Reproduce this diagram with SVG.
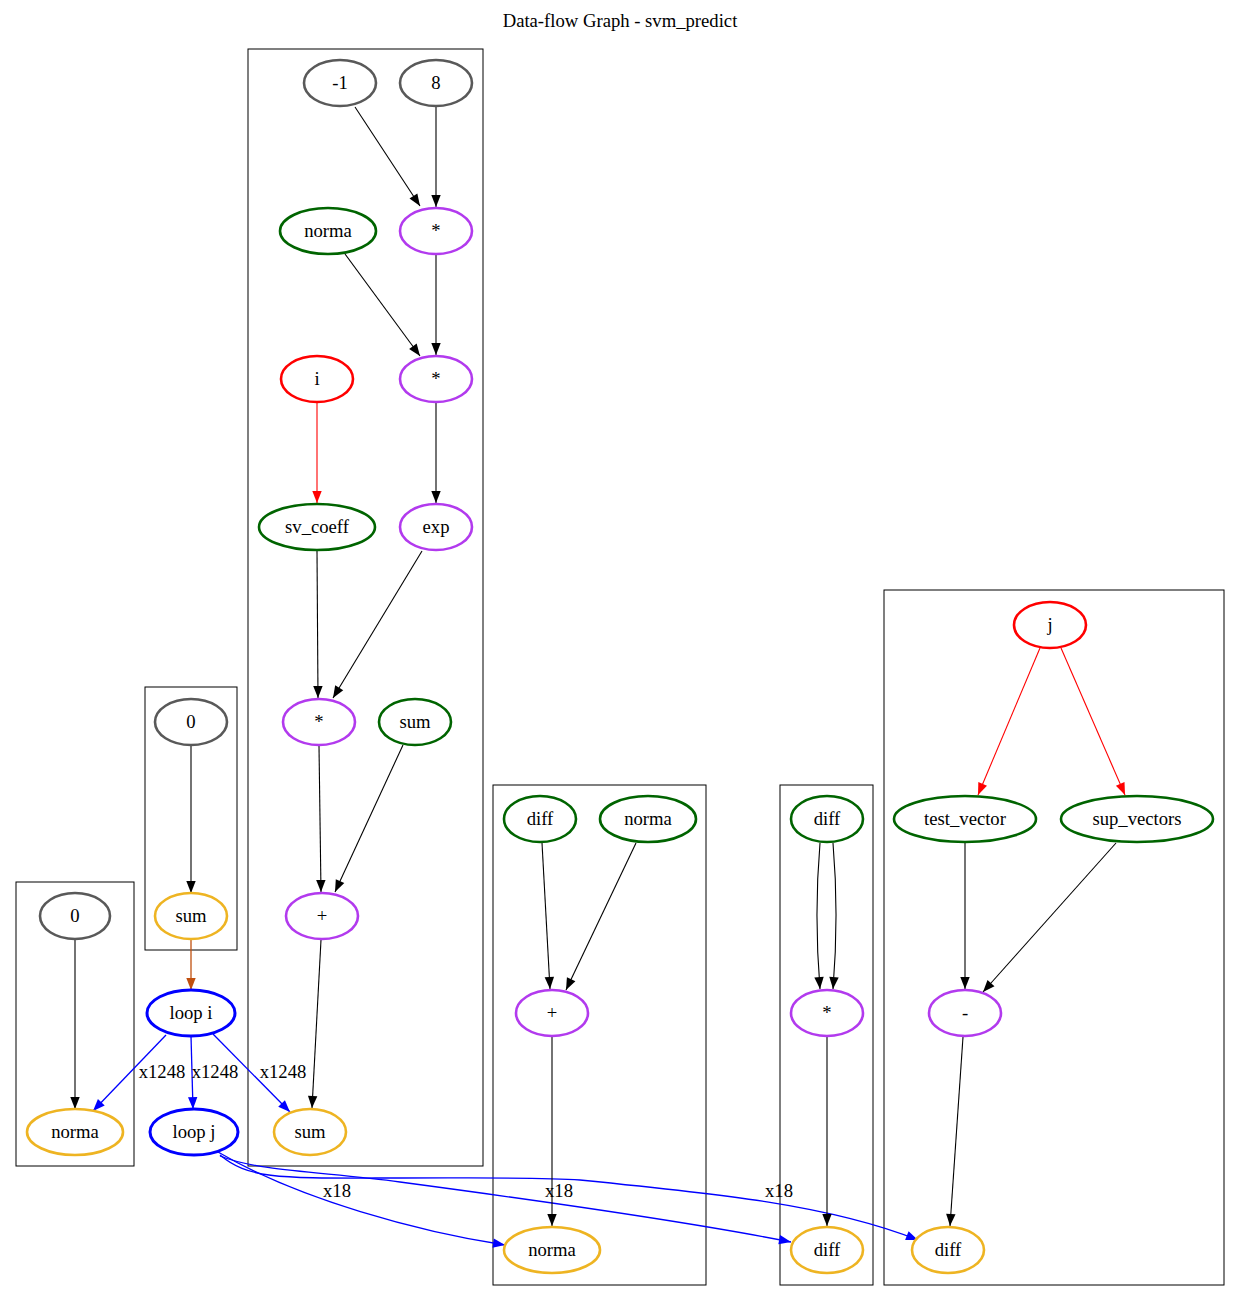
<svg xmlns="http://www.w3.org/2000/svg" width="1240" height="1301" viewBox="0 0 1240 1301">
<style>
text{font-family:"Liberation Serif","Times New Roman",serif;font-size:18.67px;text-anchor:middle;fill:#000}
.n ellipse{fill:#fff;stroke-width:2.6}
.g ellipse{stroke:#595959}
.gr ellipse{stroke:#006400}
.p ellipse{stroke:#b23aee}
.o ellipse{stroke:#eeb422}
.r ellipse{stroke:#ff0000}
.b ellipse{stroke:#0000ff;stroke-width:3}
.cl{fill:none;stroke:#000;stroke-width:1}
.e{fill:none;stroke:#000;stroke-width:1.1;marker-end:url(#ak)}
.er{fill:none;stroke:#ff0000;stroke-width:1.1;marker-end:url(#ar)}
.eb{fill:none;stroke:#0000ff;stroke-width:1.3;marker-end:url(#ab)}
.eo{fill:none;stroke:#c0500f;stroke-width:1.3;marker-end:url(#ao)}
</style>
<defs>
<marker id="ak" markerUnits="userSpaceOnUse" markerWidth="14" markerHeight="12" refX="13" refY="6" orient="auto"><path d="M1,1.3 L13,6 L1,10.7 Z" fill="#000"/></marker>
<marker id="ar" markerUnits="userSpaceOnUse" markerWidth="14" markerHeight="12" refX="13" refY="6" orient="auto"><path d="M1,1.3 L13,6 L1,10.7 Z" fill="#ff0000"/></marker>
<marker id="ab" markerUnits="userSpaceOnUse" markerWidth="14" markerHeight="12" refX="13" refY="6" orient="auto"><path d="M1,1.3 L13,6 L1,10.7 Z" fill="#0000ff"/></marker>
<marker id="ao" markerUnits="userSpaceOnUse" markerWidth="14" markerHeight="12" refX="13" refY="6" orient="auto"><path d="M1,1.3 L13,6 L1,10.7 Z" fill="#c0500f"/></marker>
</defs>
<rect width="1240" height="1301" fill="#fff"/>
<text x="620" y="27">Data-flow Graph - svm_predict</text>

<g id="clusters">
<rect class="cl" x="16" y="882" width="118" height="284"/>
<rect class="cl" x="145" y="687" width="92" height="263"/>
<rect class="cl" x="248" y="49" width="235" height="1117"/>
<rect class="cl" x="493" y="785" width="213" height="500"/>
<rect class="cl" x="780" y="785" width="93" height="500"/>
<rect class="cl" x="884" y="590" width="340" height="695"/>
</g>

<g id="edges">
<path class="e" d="M75,939 L75,1109"/>
<path class="e" d="M191,745 L191,893"/>
<path class="eo" d="M191,939 L191,990"/>
<path class="eb" d="M166,1035 L93,1111"/>
<text x="162" y="1078">x1248</text>
<path class="eb" d="M191,1036 L193,1109"/>
<text x="215" y="1078">x1248</text>
<path class="eb" d="M213,1034 L290,1112"/>
<text x="283" y="1078">x1248</text>
<path class="eb" d="M218,1152 C300,1200 420,1232 505,1245"/>
<text x="337" y="1197">x18</text>
<path class="eb" d="M220,1156 C260,1172 330,1172 400,1182 C520,1198 680,1220 791,1242"/>
<text x="559" y="1197">x18</text>
<path class="eb" d="M220,1155 C250,1180 280,1178 400,1178 C480,1178 540,1177 580,1180 C720,1194 830,1205 918,1240"/>
<text x="779" y="1197">x18</text>

<path class="e" d="M355,107 L420,206"/>
<path class="e" d="M436,106 L436,207"/>
<path class="e" d="M345,254 L420,356"/>
<path class="e" d="M436,255 L436,355"/>
<path class="er" d="M317,402 L317,503"/>
<path class="e" d="M436,403 L436,503"/>
<path class="e" d="M317,551 L318,698"/>
<path class="e" d="M422,551 L333,698"/>
<path class="e" d="M319,746 L321,892"/>
<path class="e" d="M403,745 L335,892"/>
<path class="e" d="M321,940 L312,1108"/>

<path class="e" d="M542,843 L550,989"/>
<path class="e" d="M636,843 L566,990"/>
<path class="e" d="M552,1037 L552,1226"/>

<path class="e" d="M820,843 C816,890 816,940 820,989"/>
<path class="e" d="M833,843 C837,890 837,940 833,989"/>
<path class="e" d="M827,1037 L827,1226"/>

<path class="er" d="M1040,648 L978,795"/>
<path class="er" d="M1061,648 L1125,795"/>
<path class="e" d="M965,843 L965,989"/>
<path class="e" d="M1116,843 L983,992"/>
<path class="e" d="M963,1037 L950,1226"/>
</g>

<g id="n_zero_a" class="n g"><ellipse cx="75" cy="916" rx="35" ry="23"/><text x="75" y="922">0</text></g>
<g id="n_norma_a" class="n o"><ellipse cx="75" cy="1132" rx="48" ry="23"/><text x="75" y="1138">norma</text></g>
<g id="n_zero_b" class="n g"><ellipse cx="191" cy="722" rx="36" ry="23"/><text x="191" y="728">0</text></g>
<g id="n_sum_b" class="n o"><ellipse cx="191" cy="916" rx="36" ry="23"/><text x="191" y="922">sum</text></g>
<g id="n_loop_i" class="n b"><ellipse cx="191" cy="1013" rx="44" ry="23"/><text x="191" y="1019">loop i</text></g>
<g id="n_loop_j" class="n b"><ellipse cx="194" cy="1132" rx="44" ry="23"/><text x="194" y="1138">loop j</text></g>

<g id="n_m1" class="n g"><ellipse cx="340" cy="83" rx="36" ry="23"/><text x="340" y="89">-1</text></g>
<g id="n_8" class="n g"><ellipse cx="436" cy="83" rx="36" ry="23"/><text x="436" y="89">8</text></g>
<g id="n_norma_c" class="n gr"><ellipse cx="328" cy="231" rx="48" ry="23"/><text x="328" y="237">norma</text></g>
<g id="n_mul1" class="n p"><ellipse cx="436" cy="231" rx="36" ry="23"/><text x="436" y="237">*</text></g>
<g id="n_i" class="n r"><ellipse cx="317" cy="379" rx="36" ry="23"/><text x="317" y="385">i</text></g>
<g id="n_mul2" class="n p"><ellipse cx="436" cy="379" rx="36" ry="23"/><text x="436" y="385">*</text></g>
<g id="n_sv_coeff" class="n gr"><ellipse cx="317" cy="527" rx="58" ry="23"/><text x="317" y="533">sv_coeff</text></g>
<g id="n_exp" class="n p"><ellipse cx="436" cy="527" rx="36" ry="23"/><text x="436" y="533">exp</text></g>
<g id="n_mul3" class="n p"><ellipse cx="319" cy="722" rx="36" ry="23"/><text x="319" y="728">*</text></g>
<g id="n_sum_c" class="n gr"><ellipse cx="415" cy="722" rx="36" ry="23"/><text x="415" y="728">sum</text></g>
<g id="n_plus_c" class="n p"><ellipse cx="322" cy="916" rx="36" ry="23"/><text x="322" y="922">+</text></g>
<g id="n_sum_out" class="n o"><ellipse cx="310" cy="1132" rx="36" ry="23"/><text x="310" y="1138">sum</text></g>

<g id="n_diff_d" class="n gr"><ellipse cx="540" cy="819" rx="36" ry="23"/><text x="540" y="825">diff</text></g>
<g id="n_norma_d" class="n gr"><ellipse cx="648" cy="819" rx="48" ry="23"/><text x="648" y="825">norma</text></g>
<g id="n_plus_d" class="n p"><ellipse cx="552" cy="1013" rx="36" ry="23"/><text x="552" y="1019">+</text></g>
<g id="n_norma_out" class="n o"><ellipse cx="552" cy="1250" rx="48" ry="23"/><text x="552" y="1256">norma</text></g>

<g id="n_diff_e" class="n gr"><ellipse cx="827" cy="819" rx="36" ry="23"/><text x="827" y="825">diff</text></g>
<g id="n_mul_e" class="n p"><ellipse cx="827" cy="1013" rx="36" ry="23"/><text x="827" y="1019">*</text></g>
<g id="n_diff_out_e" class="n o"><ellipse cx="827" cy="1250" rx="36" ry="23"/><text x="827" y="1256">diff</text></g>

<g id="n_j" class="n r"><ellipse cx="1050" cy="625" rx="36" ry="23"/><text x="1050" y="631">j</text></g>
<g id="n_test_vector" class="n gr"><ellipse cx="965" cy="819" rx="71" ry="23"/><text x="965" y="825">test_vector</text></g>
<g id="n_sup_vectors" class="n gr"><ellipse cx="1137" cy="819" rx="76" ry="23"/><text x="1137" y="825">sup_vectors</text></g>
<g id="n_minus" class="n p"><ellipse cx="965" cy="1013" rx="36" ry="23"/><text x="965" y="1019">-</text></g>
<g id="n_diff_out_f" class="n o"><ellipse cx="948" cy="1250" rx="36" ry="23"/><text x="948" y="1256">diff</text></g>
</svg>
